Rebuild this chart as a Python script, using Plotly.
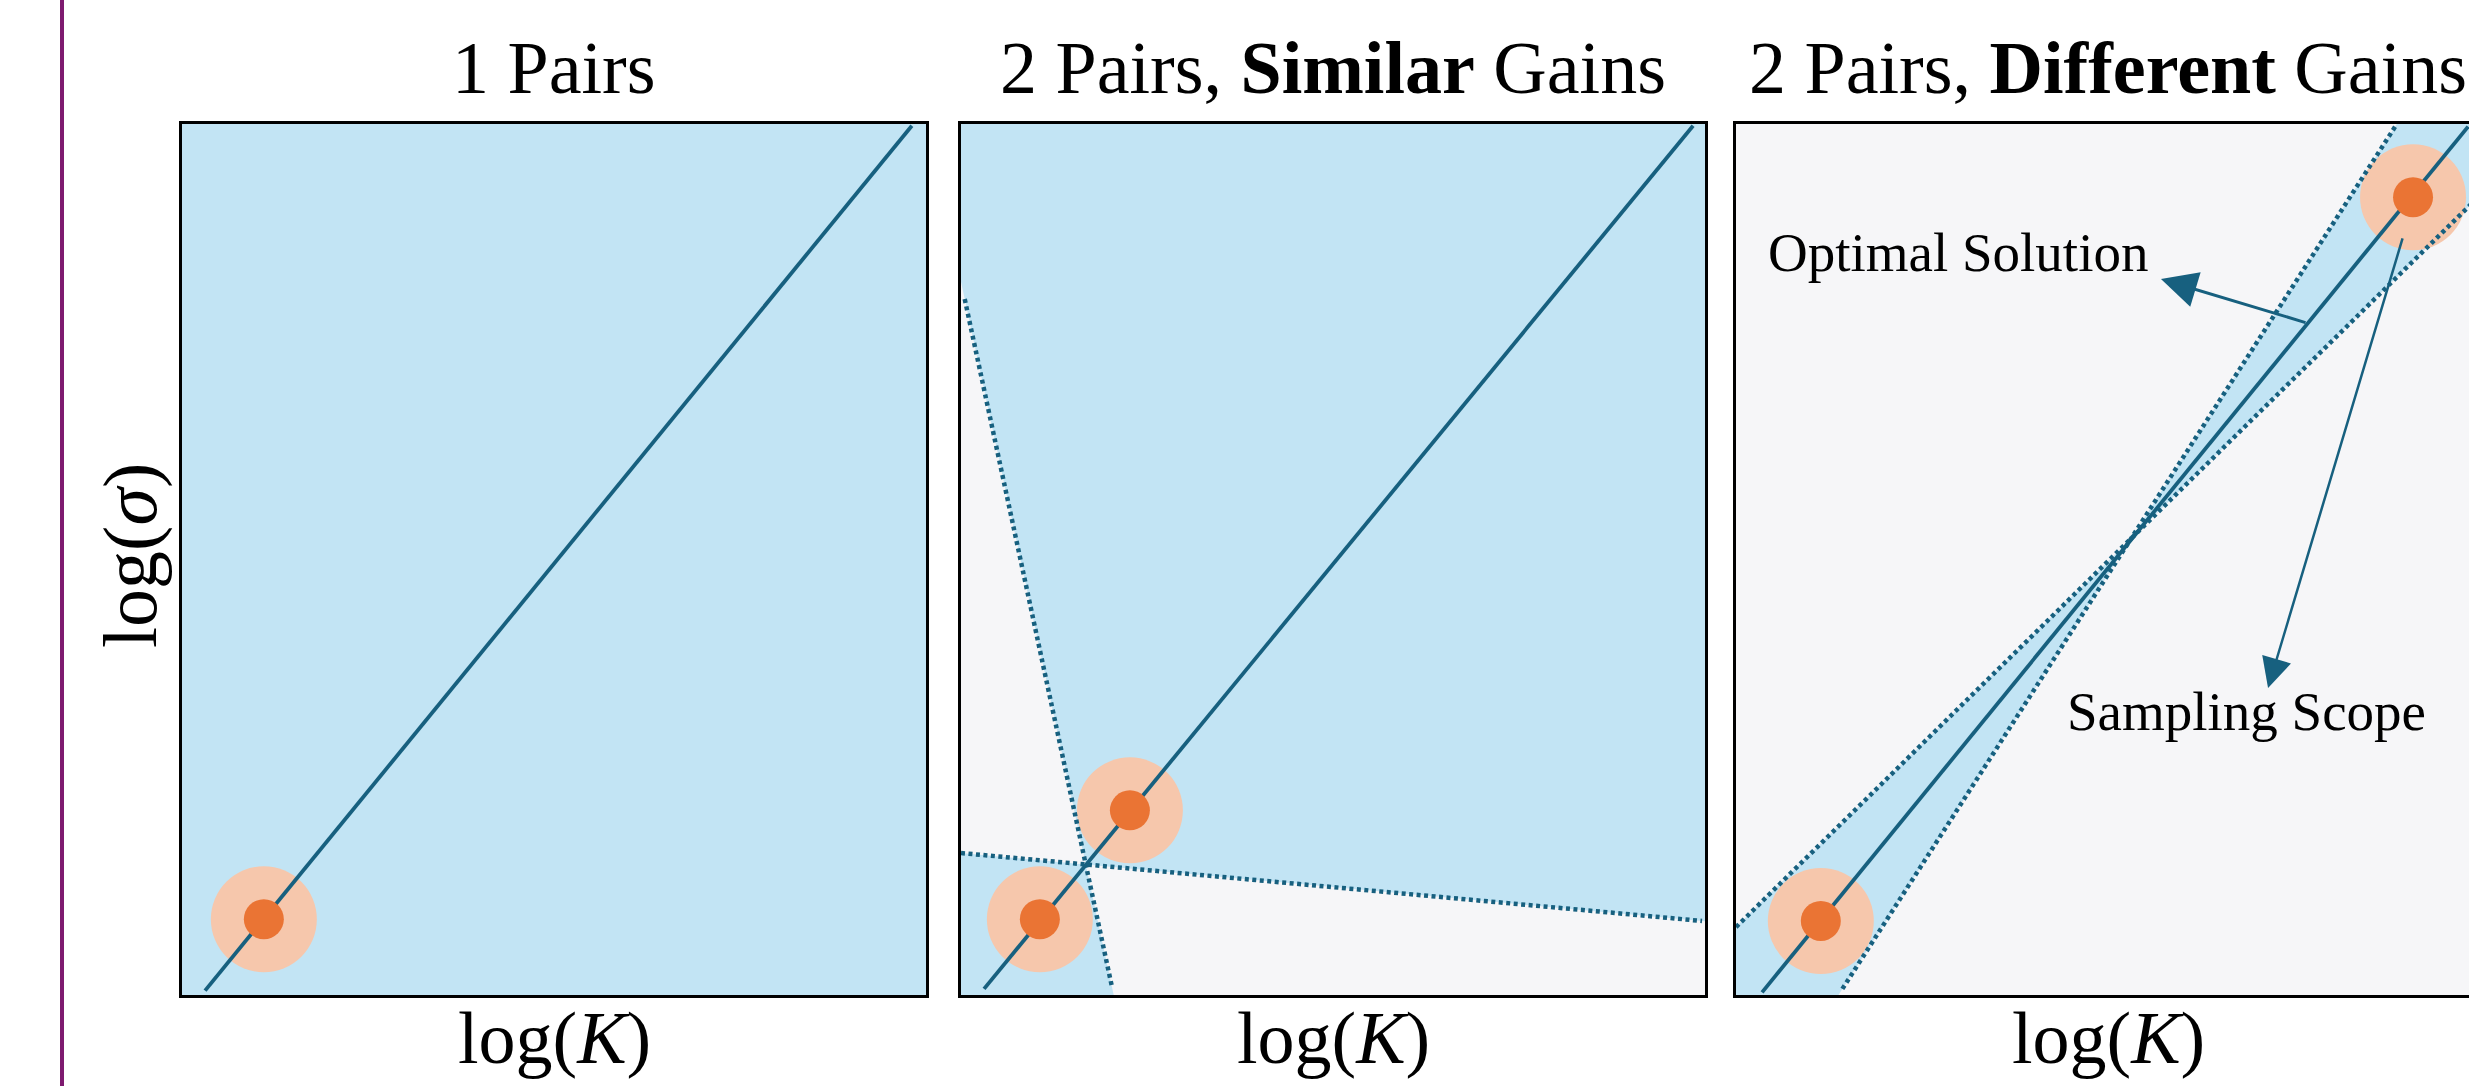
import plotly.graph_objects as go

# ---------------- data ----------------
titles = ["1 Pairs", "2 Pairs, <b>Similar</b> Gains", "2 Pairs, <b>Different</b> Gains"]
x_label = "log(<i>K</i>)"
y_label = "log(<i>σ</i>)"

# optimal-solution line (log K, log sigma) per panel
opt_x = [[0.31, 9.81], [0.31, 9.84], [0.35, 9.84]]
opt_y = [[0.05, 9.98], [0.07, 9.98], [0.03, 9.97]]

# sampled pairs per panel
sample_x = [[1.10], [1.06, 2.27], [1.14, 9.10]]
sample_y = [[0.87], [0.87, 2.12], [0.85, 9.16]]

# dotted constraint boundaries per panel
bound_x = [[], [[0.05, 2.03], [0.0, 9.96]], [[1.43, 8.86], [0.0, 10.0]]]
bound_y = [[], [[7.99, 0.09], [1.63, 0.85]], [[0.07, 9.97], [0.78, 9.18]]]

# annotations in panel 3 (text position, arrow tail, arrow tip)
ann_text = ["Optimal Solution", "Sampling Scope"]
ann_xy = [(2.98, 8.53), (6.86, 3.25)]
arrow_tail = [(7.675, 7.715), (8.965, 8.703)]
arrow_tip = [(5.712, 8.22), (7.151, 3.525)]
arrow_w = [3, 2.5]

# ---------------- style ----------------
W, H = 2469, 1086
panel_left = [182, 961, 1736]
panel_w = 744
top_px, bot_px = 124, 995
BLUE = "#C2E4F4"
GREY = "#F6F6F8"
LINE = "#17607F"
ORANGE = "#EA7434"
HALO = "#F6C7AC"
PURPLE = "#7E1A6F"
FONT = "Liberation Serif"


def clip(poly, a, b, sign):
    def side(p):
        return sign * ((b[0] - a[0]) * (p[1] - a[1]) - (b[1] - a[1]) * (p[0] - a[0]))
    out = []
    n = len(poly)
    for i in range(n):
        p, q = poly[i], poly[(i + 1) % n]
        sp, sq = side(p), side(q)
        if sp >= 0:
            out.append(p)
        if (sp >= 0) != (sq >= 0):
            t = sp / (sp - sq)
            out.append((p[0] + t * (q[0] - p[0]), p[1] + t * (q[1] - p[1])))
    return out


def side_sign(a, b, p):
    v = (b[0] - a[0]) * (p[1] - a[1]) - (b[1] - a[1]) * (p[0] - a[0])
    return 1 if v > 0 else -1


fig = go.Figure()
ydom = [1 - bot_px / H, 1 - top_px / H]
box = [(0, 0), (10, 0), (10, 10), (0, 10)]

for i in range(3):
    xa = "x" if i == 0 else f"x{i+1}"
    ya = "y" if i == 0 else f"y{i+1}"
    left = panel_left[i]
    right = min(W, left + panel_w)
    xr = [0, 10 * (right - left) / panel_w]

    # shaded sampling scope
    if len(bound_x[i]) == 0:
        polys = [box]
    else:
        A = [(bound_x[i][0][0], bound_y[i][0][0]), (bound_x[i][0][1], bound_y[i][0][1])]
        B = [(bound_x[i][1][0], bound_y[i][1][0]), (bound_x[i][1][1], bound_y[i][1][1])]
        ref = (opt_x[i][1], opt_y[i][1])
        sa = side_sign(A[0], A[1], ref)
        sb = side_sign(B[0], B[1], ref)
        polys = [clip(clip(box, A[0], A[1], sa), B[0], B[1], sb),
                 clip(clip(box, A[0], A[1], -sa), B[0], B[1], -sb)]
    for poly in polys:
        if not poly:
            continue
        fig.add_trace(go.Scatter(x=[p[0] for p in poly] + [poly[0][0]],
                                 y=[p[1] for p in poly] + [poly[0][1]],
                                 mode="lines", fill="toself", fillcolor=BLUE,
                                 line=dict(width=0, color=BLUE), hoverinfo="skip",
                                 showlegend=False, xaxis=xa, yaxis=ya))
    # halos
    fig.add_trace(go.Scatter(x=sample_x[i], y=sample_y[i], mode="markers",
                             marker=dict(size=106, color=HALO, line=dict(width=0)),
                             showlegend=False, xaxis=xa, yaxis=ya))
    # optimal line
    fig.add_trace(go.Scatter(x=opt_x[i], y=opt_y[i], mode="lines",
                             line=dict(color=LINE, width=3.8),
                             showlegend=False, xaxis=xa, yaxis=ya))
    # dotted bounds
    for bx, by in zip(bound_x[i], bound_y[i]):
        fig.add_trace(go.Scatter(x=bx, y=by, mode="lines",
                                 line=dict(color=LINE, width=4.5, dash="4px,3.5px"),
                                 showlegend=False, xaxis=xa, yaxis=ya))
    # sample dots
    fig.add_trace(go.Scatter(x=sample_x[i], y=sample_y[i], mode="markers",
                             marker=dict(size=40, color=ORANGE, line=dict(width=0)),
                             showlegend=False, xaxis=xa, yaxis=ya))

    axkey = "xaxis" if i == 0 else f"xaxis{i+1}"
    aykey = "yaxis" if i == 0 else f"yaxis{i+1}"
    fig.update_layout({
        axkey: dict(domain=[left / W, right / W], range=xr, showgrid=False, zeroline=False,
                    showticklabels=False, ticks="", showline=True, mirror=True,
                    linecolor="black", linewidth=3, anchor=ya, fixedrange=True),
        aykey: dict(domain=ydom, range=[0, 10], showgrid=False, zeroline=False,
                    showticklabels=False, ticks="", showline=True,
                    mirror=(i < 2), linecolor="black", linewidth=3, anchor=xa,
                    fixedrange=True),
    })

    cx = (left + left + panel_w) / 2 / W
    fig.add_annotation(x=cx, y=1 - 68 / H, xref="paper", yref="paper", text=titles[i],
                       showarrow=False, xanchor="center", yanchor="middle",
                       font=dict(family=FONT, size=74, color="black"))
    fig.add_annotation(x=cx, y=1 - 1038 / H, xref="paper", yref="paper", text=x_label,
                       showarrow=False, xanchor="center", yanchor="middle",
                       font=dict(family=FONT, size=74, color="black"))

# y label
fig.add_annotation(x=130 / W, y=1 - 556 / H, xref="paper", yref="paper", text=y_label,
                   textangle=-90, showarrow=False, xanchor="center", yanchor="middle",
                   font=dict(family=FONT, size=76, color="black"))

# panel-3 annotations
for t, (tx, ty) in zip(ann_text, ann_xy):
    fig.add_annotation(x=tx, y=ty, xref="x3", yref="y3", text=t, showarrow=False,
                       xanchor="center", yanchor="middle",
                       font=dict(family=FONT, size=55, color="black"))
for (ax_, ay_), (tx, ty), w in zip(arrow_tail, arrow_tip, arrow_w):
    fig.add_annotation(x=tx, y=ty, xref="x3", yref="y3", ax=ax_, ay=ay_,
                       axref="x3", ayref="y3", text="", showarrow=True,
                       arrowhead=2, arrowsize=2.4, arrowwidth=w, arrowcolor=LINE,
                       standoff=0, startstandoff=0)

# purple divider
fig.add_shape(type="line", xref="paper", yref="paper", x0=62 / W, x1=62 / W, y0=0, y1=1,
              line=dict(color=PURPLE, width=4))

fig.update_layout(width=W, height=H, margin=dict(l=0, r=0, t=0, b=0),
                  paper_bgcolor="white", plot_bgcolor=GREY, showlegend=False)

fig.write_html("out.html", config={"displayModeBar": False},
               post_script="document.body.style.margin='0';document.body.style.padding='0';document.body.style.overflow='hidden';")
